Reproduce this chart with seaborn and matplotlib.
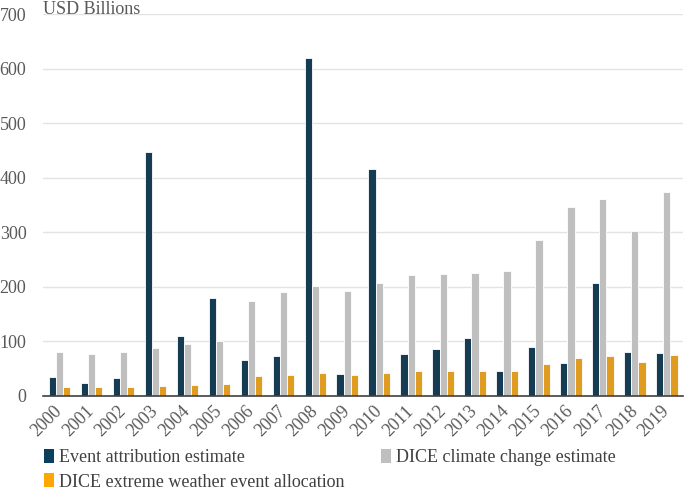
import matplotlib
matplotlib.use("Agg")
import matplotlib.pyplot as plt
import seaborn as sns
import pandas as pd
from matplotlib.patches import Patch
from matplotlib.transforms import ScaledTranslation

years = [str(y) for y in range(2000, 2020)]
event_attribution = [34, 24, 33, 447, 110, 179, 65, 72, 620, 40,
                     416, 76, 86, 105, 45, 90, 60, 207, 80, 78]
dice_climate = [81, 77, 80, 87, 95, 100, 174, 190, 201, 192,
                206, 222, 223, 226, 228, 286, 346, 361, 303, 373]
dice_extreme = [16, 16, 16, 18, 19, 21, 36, 38, 41, 38,
                42, 45, 45, 46, 46, 58, 70, 73, 62, 75]
series_names = ["Event attribution estimate", "DICE climate change estimate",
                "DICE extreme weather event allocation"]
colors = ["#0b3f5c", "#bfbfbf", "#ffa600"]

rows = []
for name, vals in zip(series_names, [event_attribution, dice_climate, dice_extreme]):
    for y, v in zip(years, vals):
        rows.append({"Year": y, "Series": name, "Value": v})
df = pd.DataFrame(rows)

sns.set_theme(style="white")
plt.rcParams['font.family'] = ['Liberation Serif', 'DejaVu Serif']

fig = plt.figure(figsize=(6.85, 4.9), dpi=100)
ax = fig.add_axes([0.063, 0.1925, 0.934, 0.7785])

sns.barplot(data=df, x="Year", y="Value", hue="Series", order=years,
            hue_order=series_names, palette=colors, width=0.66,
            edgecolor="white", linewidth=0.6, ax=ax, legend=False)

ax.set_ylim(0, 700)
ax.set_xlim(-0.5, len(years) - 0.5)
ax.set_yticks(range(0, 701, 100))
ax.yaxis.grid(True, color="#e3e3e3", linewidth=1)
ax.set_axisbelow(True)
for s in ["top", "right", "left"]:
    ax.spines[s].set_visible(False)
ax.spines["bottom"].set_color("#404040")
ax.spines["bottom"].set_linewidth(1.2)
ax.set_xlabel("")
ax.set_ylabel("")

ax.tick_params(axis="y", length=0, labelsize=13, labelcolor="#595959", pad=12)
ax.set_xticks(range(len(years)))
ax.set_xticklabels(years, rotation=45, ha="right", rotation_mode="anchor",
                   fontsize=13, color="#595959")
ax.tick_params(axis="x", which="major", length=0, pad=5)
ax.set_xticks([i - 0.5 for i in range(len(years) + 1)], minor=True)
ax.tick_params(axis="x", which="minor", length=5, width=1, color="#404040",
               direction="out")
off = ScaledTranslation(-6 / 100, 0, fig.dpi_scale_trans)
for lab in ax.get_xticklabels():
    lab.set_transform(lab.get_transform() + off)

ax.text(0.0, 1.0, "USD Billions", transform=ax.transAxes, fontsize=13,
        color="#595959", ha="left", va="baseline")

handles = [Patch(facecolor=c, edgecolor="none") for c in colors]
order = [0, 2, 1]
fig.legend([handles[i] for i in order], [series_names[i] for i in order],
           ncol=2, loc="upper left", bbox_to_anchor=(0.064, 0.0837),
           borderaxespad=0, borderpad=0,
           frameon=False, fontsize=13, handlelength=0.55, handleheight=0.8,
           handletextpad=0.3, columnspacing=2.0, labelspacing=0.4,
           labelcolor="#404040")

fig.savefig("out.png", dpi=100)
